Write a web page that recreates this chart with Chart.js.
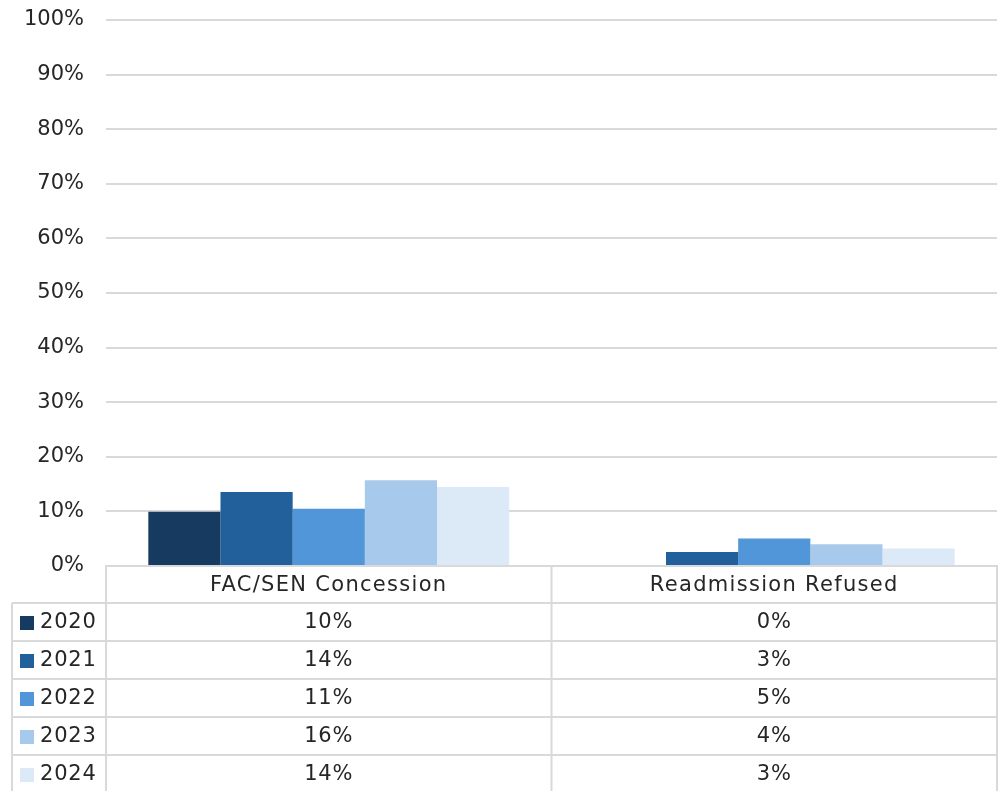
<!DOCTYPE html>
<html>
<head>
<meta charset="utf-8">
<script src="https://cdn.jsdelivr.net/npm/chart.js@4/dist/chart.umd.min.js"></script>
<style>
  html, body { margin: 0; padding: 0; background: #fff; }
  #wrap { width: 1004px; height: 791px; }
</style>
</head>
<body>
<div id="wrap"><canvas id="myChart" width="1004" height="791"></canvas></div>
<script>
var categories = ['FAC/SEN Concession', 'Readmission Refused'];
var years = ['2020', '2021', '2022', '2023', '2024'];
var colors = ['#173A60', '#22609C', '#5096D8', '#A7CAEC', '#DCE9F7'];
var values2020 = [9.95, 0];
var values2021 = [13.55, 2.55];
var values2022 = [10.5, 5.05];
var values2023 = [15.7, 4.0];
var values2024 = [14.45, 3.2];
var yTicks = [0, 10, 20, 30, 40, 50, 60, 70, 80, 90, 100];

var seriesValues = [values2020, values2021, values2022, values2023, values2024];
var FONT = '"DejaVu Sans", sans-serif';
var GRID = '#D9D9D9';
var TEXT = '#262626';

// draws the data table under the plot, using the x scale for column positions
var dataTable = {
    id: 'dataTable',
    afterDraw: function (chart) {
        var ctx = chart.ctx;
        var area = chart.chartArea;
        var xs = chart.scales.x;
        var top = area.bottom;
        var headerH = 37;
        var rowH = 38;
        var legendLeft = 12;
        var step = xs.getPixelForValue(1) - xs.getPixelForValue(0);
        var cols = [area.left];
        for (var c = 0; c < categories.length; c++) {
            cols.push(xs.getPixelForValue(c) + step / 2);
        }
        var bottom = top + headerH + rowH * years.length;

        ctx.save();
        ctx.strokeStyle = GRID;
        ctx.lineWidth = 2;
        ctx.beginPath();
        // vertical lines
        cols.forEach(function (x) {
            ctx.moveTo(x, top);
            ctx.lineTo(x, bottom);
        });
        ctx.moveTo(legendLeft, top + headerH);
        ctx.lineTo(legendLeft, bottom);
        // horizontal lines
        for (var r = 0; r <= years.length; r++) {
            var y = top + headerH + r * rowH;
            ctx.moveTo(legendLeft, y);
            ctx.lineTo(area.right, y);
        }
        ctx.stroke();

        ctx.fillStyle = TEXT;
        ctx.font = '21px ' + FONT;
        ctx.letterSpacing = '1.3px';
        ctx.textBaseline = 'middle';
        ctx.textAlign = 'center';
        categories.forEach(function (cat, i) {
            ctx.fillText(cat, xs.getPixelForValue(i), top + headerH / 2 + 1);
        });
        ctx.letterSpacing = '0.8px';
        years.forEach(function (yr, r) {
            var cy = top + headerH + r * rowH + rowH / 2 + 1;
            ctx.fillStyle = colors[r];
            ctx.fillRect(20, cy - 7, 14, 14);
            ctx.fillStyle = TEXT;
            ctx.textAlign = 'left';
            ctx.fillText(yr, 40, cy);
            ctx.textAlign = 'center';
            seriesValues[r].forEach(function (v, i) {
                ctx.fillText(Math.round(v) + '%', xs.getPixelForValue(i), cy);
            });
        });
        ctx.restore();
    }
};

var ctx = document.getElementById('myChart').getContext('2d');
var myChart = new Chart(ctx, {
    type: 'bar',
    data: {
        labels: categories,
        datasets: years.map(function (yr, i) {
            return {
                label: yr,
                data: seriesValues[i],
                backgroundColor: colors[i],
                borderWidth: 0,
                categoryPercentage: 0.81,
                barPercentage: 1.0
            };
        })
    },
    options: {
        responsive: false,
        animation: false,
        layout: {
            padding: { top: 20, right: 7, bottom: 225, left: 0 }
        },
        plugins: {
            legend: { display: false },
            tooltip: { enabled: false }
        },
        scales: {
            x: {
                ticks: { display: false },
                grid: { display: false },
                border: { display: true, color: GRID, width: 2 },
                afterFit: function (s) { s.height = 0; }
            },
            y: {
                min: 0,
                max: 100,
                afterBuildTicks: function (s) {
                    s.ticks = yTicks.map(function (v) { return { value: v }; });
                },
                ticks: {
                    callback: function (v) { return v + '%'; },
                    color: TEXT,
                    font: { family: FONT, size: 21 },
                    padding: 22
                },
                grid: { color: GRID, lineWidth: 2, drawTicks: false },
                border: { display: false },
                afterFit: function (s) {
                    s.width = 106;
                    s.paddingTop = 0;
                }
            }
        }
    },
    plugins: [dataTable]
});
</script>
</body>
</html>
